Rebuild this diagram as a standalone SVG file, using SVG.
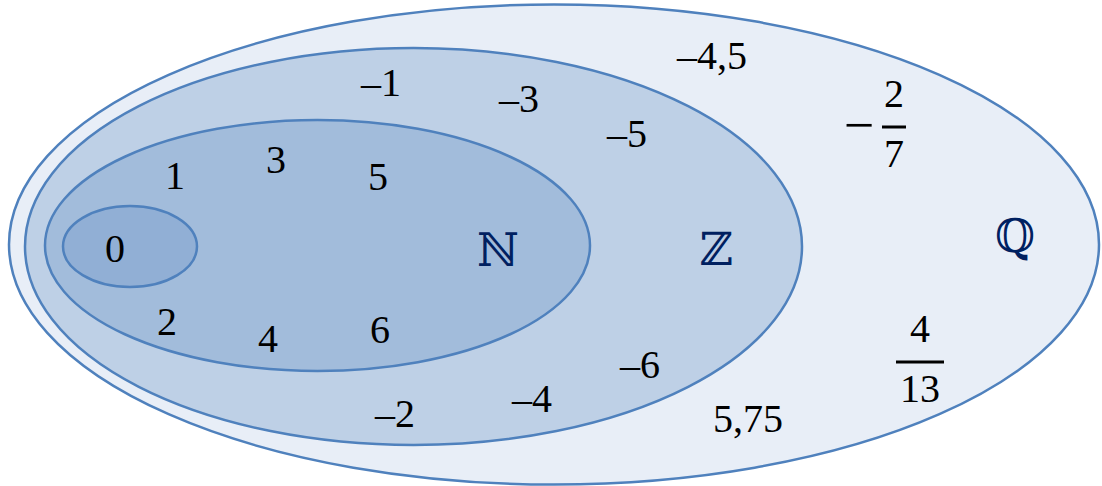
<svg xmlns="http://www.w3.org/2000/svg" width="1102" height="486" viewBox="0 0 1102 486">
<style>
.set{stroke:#4F81BD;stroke-width:2.5}
.num{font-family:"Liberation Serif","Times New Roman",serif;font-size:40px;fill:#000;text-anchor:middle}
.lbl{font-family:"DejaVu Serif","DejaVu Sans",serif;font-size:46px;fill:#002060;text-anchor:middle}
.bar{stroke:#000;stroke-width:3}
</style>
<rect width="1102" height="486" fill="#FFFFFF"/>
<g id="set-Q">
<ellipse class="set" cx="554" cy="244.5" rx="545" ry="240" fill="#E8EEF7"/>
</g>
<g id="set-Z">
<ellipse class="set" cx="413.5" cy="246.5" rx="388.5" ry="198.5" fill="#BED0E6"/>
</g>
<g id="set-N">
<ellipse class="set" cx="317.5" cy="245.5" rx="272.5" ry="125.5" fill="#A2BCDB"/>
</g>
<g id="set-0">
<ellipse class="set" cx="130" cy="246.5" rx="67" ry="40.5" fill="#91AFD5"/>
<text class="num" x="115" y="262">0</text>
</g>
<g id="labels-N">
<text class="num" x="175" y="189">1</text>
<text class="num" x="276" y="173">3</text>
<text class="num" x="378" y="190">5</text>
<text class="num" x="167" y="335">2</text>
<text class="num" x="268" y="352">4</text>
<text class="num" x="380" y="343">6</text>
<text class="lbl" x="498" y="266">ℕ</text>
</g>
<g id="labels-Z">
<text class="num" x="381" y="96">–1</text>
<text class="num" x="519" y="112">–3</text>
<text class="num" x="627" y="147">–5</text>
<text class="num" x="640" y="378">–6</text>
<text class="num" x="532" y="412">–4</text>
<text class="num" x="395" y="427">–2</text>
<text class="lbl" x="716" y="265">ℤ</text>
</g>
<g id="labels-Q">
<text class="num" x="712" y="69">–4,5</text>
<text class="num" x="748" y="432">5,75</text>
<text class="num" x="859" y="143" style="font-size:54px">−</text>
<text class="num" x="894" y="107">2</text>
<line class="bar" x1="882" y1="127" x2="906" y2="127"/>
<text class="num" x="894" y="167">7</text>
<text class="num" x="920" y="342">4</text>
<line class="bar" x1="896" y1="362" x2="944" y2="362"/>
<text class="num" x="920" y="402">13</text>
<text class="lbl" x="1015" y="252">ℚ</text>
</g>
</svg>
